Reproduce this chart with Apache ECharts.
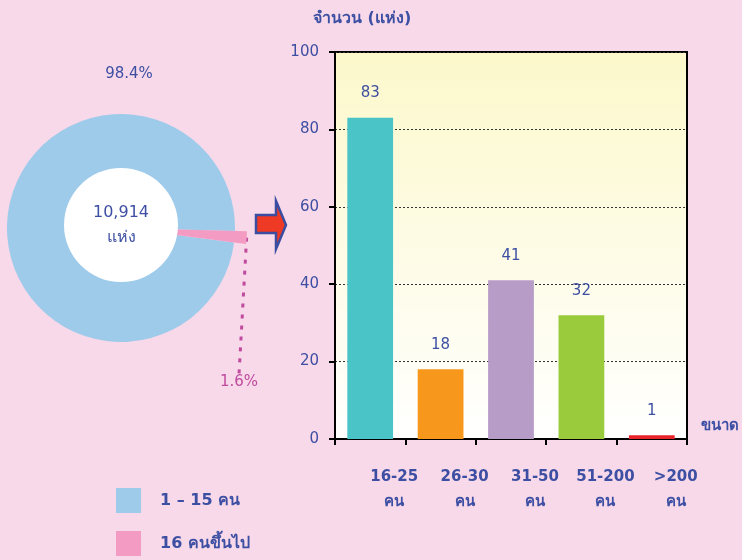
<!DOCTYPE html>
<html>
<head>
<meta charset="utf-8">
<style>
  html, body { margin: 0; padding: 0; background: #f7d9e9; }
  #chart { width: 742px; height: 560px; }
</style>
<script src="https://cdn.jsdelivr.net/npm/echarts@6/dist/echarts.min.js"></script>
</head>
<body>
<div id="chart"></div>
<script>
// pie: share of establishments by size
const pieNames = ['16 คนขึ้นไป', '1 – 15 คน']
const pieValues = [1.6, 98.4]
const pieColors = ['#f49bc3', '#9fcbeb']
const totalText = '10,914'
const totalUnit = 'แห่ง'

// bar: establishments with 16+ workers
const sizeCats = ['16-25\nคน', '26-30\nคน', '31-50\nคน', '51-200\nคน', '>200\nคน']
const sizeCounts = [83, 18, 41, 32, 1]
const barColors = ['#4bc4c7', '#f7981d', '#b89cc8', '#9acb3c', '#e8242a']

const txt = '#3d4fa3'
const pinkTxt = '#c04b9e'
const font = "'DejaVu Sans', sans-serif"

const chart = echarts.init(document.getElementById('chart'))

// one ring per slice so the small slice can stick out a bit
const ringData = (show) => pieNames.map((n, i) => ({
  name: n,
  value: pieValues[i],
  itemStyle: { color: i === show ? pieColors[i] : 'rgba(0,0,0,0)' },
  label: { show: i === show, color: i === 0 ? pinkTxt : txt },
  labelLine: { show: i === show && i === 0 }
}))

const pieCommon = {
  type: 'pie',
  center: [121, 228],
  startAngle: -1.5,
  clockwise: true,
  avoidLabelOverlap: false,
  silent: true,
  label: {
    position: 'outside',
    formatter: p => p.value + '%',
    fontSize: 15
  },
  labelLine: {
    length: 10,
    length2: 0,
    lineStyle: { color: pinkTxt, width: 3, type: [4, 7] }
  }
}

chart.setOption({
  backgroundColor: '#f7d9e9',
  textStyle: { fontFamily: font },
  animation: false,
  legend: {
    data: [
      { name: pieNames[1], itemStyle: { color: pieColors[1] } },
      { name: pieNames[0], itemStyle: { color: pieColors[0] } }
    ],
    orient: 'vertical',
    left: 116,
    top: 488,
    padding: 0,
    itemWidth: 25,
    itemHeight: 25,
    itemGap: 18,
    icon: 'rect',
    textStyle: { color: txt, fontSize: 16, fontWeight: 'bold', fontFamily: font, padding: [0, 0, 0, 14] }
  },
  grid: {
    left: 335, right: 52, top: 52, bottom: 121,
    show: true,
    borderColor: '#000',
    borderWidth: 2,
    backgroundColor: new echarts.graphic.LinearGradient(0, 0, 0, 1, [
      { offset: 0, color: '#fcf8cb' },
      { offset: 1, color: '#ffffff' }
    ])
  },
  xAxis: {
    type: 'category',
    data: sizeCats,
    name: 'ขนาด',
    nameLocation: 'end',
    nameGap: 14,
    nameTextStyle: { color: txt, fontSize: 15, fontWeight: 'bold', verticalAlign: 'bottom', padding: [0, 0, 5, 0] },
    axisLine: { lineStyle: { color: '#000', width: 2 } },
    axisTick: { show: true, length: 6, lineStyle: { color: '#000', width: 2 } },
    axisLabel: {
      interval: 0,
      color: txt, fontSize: 15, fontWeight: 'bold', margin: 26, lineHeight: 25,
      padding: [0, 0, 0, 48]
    }
  },
  yAxis: {
    type: 'value',
    min: 0, max: 100, interval: 20,
    name: 'จำนวน (แห่ง)',
    nameLocation: 'end',
    nameGap: 25,
    nameTextStyle: { color: txt, fontSize: 16, fontWeight: 'bold', align: 'left', padding: [0, 0, 0, -22] },
    axisLine: { show: true, lineStyle: { color: '#000', width: 2 } },
    axisTick: { show: true, length: 6, lineStyle: { color: '#000', width: 2 } },
    axisLabel: { color: txt, fontSize: 15, margin: 16 },
    splitLine: { show: true, lineStyle: { color: '#333', type: [2, 2], width: 1 } }
  },
  series: [
    Object.assign({}, pieCommon, {
      name: 'large',
      radius: [48, 114],
      data: ringData(1),
      labelLayout: { x: 129, y: 74, align: 'center', verticalAlign: 'middle' }
    }),
    Object.assign({}, pieCommon, {
      name: 'small',
      radius: [48, 126],
      data: ringData(0),
      labelLayout: { x: 239, y: 382, align: 'center', verticalAlign: 'middle' }
    }),
    {
      // white centre with the total
      type: 'pie',
      center: [121, 225],
      radius: [0, 57],
      silent: true,
      data: [{ name: 'total', value: 1, itemStyle: { color: '#ffffff' } }],
      label: {
        show: true,
        position: 'center',
        formatter: totalText + '\n' + totalUnit,
        color: txt, fontSize: 16, lineHeight: 25, padding: [7, 0, 0, 0]
      },
      labelLine: { show: false }
    },
    {
      type: 'bar',
      data: sizeCounts.map((v, i) => ({ value: v, itemStyle: { color: barColors[i] } })),
      barWidth: '65%',
      label: { show: true, position: 'top', distance: 17, color: txt, fontSize: 15 }
    }
  ],
  graphic: [
    {
      type: 'polygon',
      shape: { points: [[256, 215], [276, 215], [276, 201], [286, 225], [276, 249], [276, 233], [256, 233]] },
      style: { fill: '#ee3a24', stroke: '#3b4da0', lineWidth: 2.5 }
    }
  ]
})
</script>
</body>
</html>
